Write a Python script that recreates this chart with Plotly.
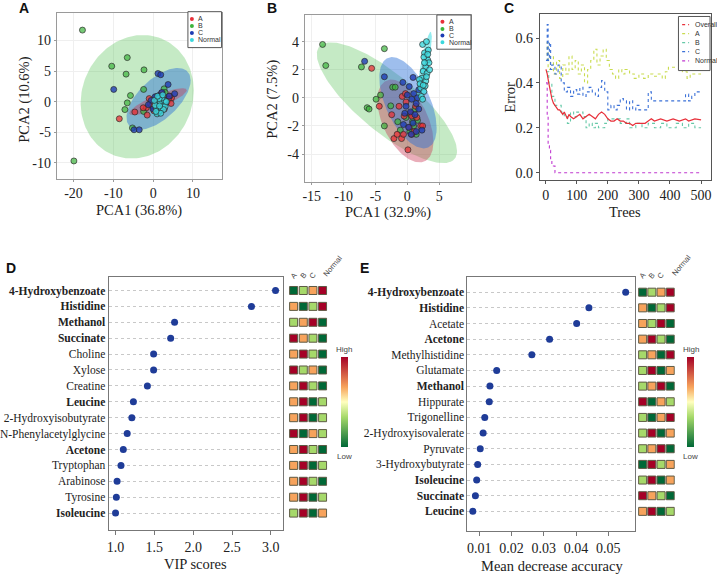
import numpy as np
import plotly.graph_objects as go

W, H = 717, 577
SERIF = "Liberation Serif, Times New Roman, serif"
SANS = "Liberation Sans, Arial, sans-serif"
NARROW = "Liberation Sans Narrow, Arial Narrow, Liberation Sans, sans-serif"

GROUPS = ["A", "B", "C", "Normal"]
GROUP_COLORS = ["rgba(232,48,52,0.75)", "rgba(60,180,60,0.7)", "rgba(30,60,180,0.8)", "rgba(60,215,220,0.8)"]
LEGEND_COLORS = ["#e8303a", "#3cb43c", "#1e3cb4", "#3cd7dc"]
ELL_COLORS = ["rgba(200,50,80,0.40)", "rgba(80,190,80,0.33)", "rgba(40,110,215,0.45)", "rgba(60,220,225,0.55)"]

# ---------------- Panel A (PCA, dataset 1) ----------------
PA_A_X = [-8.5, -4.6, -1.7, -1.5, -0.7, 0.0, 0.5, 1.0, 1.5, 2.1, 2.5, 2.9, 3.5, 4.6, 4.2, 1.2, 0.2, -1.0, 2.8, 3.8, 0.8, -0.3, 1.8, 4.5, -2.5]
PA_A_Y = [-2.8, -1.7, -1.0, -2.2, -0.3, -0.8, -1.2, 0.2, -0.5, 1.4, -0.8, 0.5, 0.0, 0.6, 0.9, -1.8, -1.5, 0.5, -1.2, 0.4, 0.8, -0.6, -0.2, -0.3, -1.0]
PA_B_X = [-17.75, -10.4, -6.5, -6.8, -2.3, -2.4, -5.7, -6.5, -7.1, -5.2, -19.9, -2.4, 2.75, 2.0, 3.5, 0.5, 3.0, 1.5]
PA_B_Y = [11.7, 5.8, 7.2, 4.5, 5.2, 2.0, 1.0, -0.2, -1.3, -4.3, -9.7, -1.6, 2.1, 1.0, 0.3, -0.5, 1.5, 0.0]
PA_C_X = [-9.9, 1.2, 1.9, -4.8, -3.5, 3.75, 5.4, 0.5, 1.5, 2.5, -0.5, 1.0, 3.2, 2.2, 0.0, 4.0, -1.2, 1.8]
PA_C_Y = [2.0, 4.6, 4.4, -4.6, -4.6, 2.8, 1.3, 0.8, 1.0, 0.3, 0.2, -0.8, -0.2, 1.5, -1.2, 0.9, -0.5, -1.5]
PA_N_X = [1.0, 1.5, 0.8, 2.0, 2.5, 1.2, 1.8, 2.8, 3.0, 0.5, 2.2, 1.5, 3.3, 0.3, 2.6, 1.9, 1.1, 2.4, 0.7, 1.6]
PA_N_Y = [-2.0, -1.5, -1.0, -1.0, -0.5, -0.3, 0.0, 0.2, -0.8, -0.6, 0.6, 0.5, 0.0, 0.2, -1.3, -1.9, 0.9, 1.1, -1.6, -0.7]
# ellipse parameters (centre, half x-extent, half y-extent, correlation) for A, B, C, Normal
PA_ELL_CX = [1.2, -4.0, 1.35, 1.7]
PA_ELL_CY = [0.0, 0.8, 0.45, -0.4]
PA_ELL_SX = [7.2, 14.2, 8.05, 2.2]
PA_ELL_SY = [2.2, 10.1, 5.05, 1.9]
PA_ELL_R = [0.85, 0.1, 0.6, 0.6]
PA_XTICKS = [-20, -10, 0, 10]
PA_XTEXT = ["-20", "-10", "0", "10"]
PA_YTICKS = [-10, -5, 0, 5, 10]
PA_YTEXT = ["-10", "-5", "0", "5", "10"]

# ---------------- Panel B (PCA, dataset 2) ----------------
PB_A_X = [-5.6, -4.4, -2.45, -2.1, -0.9, -0.6, 0.1, 0.7, 2.1, 2.4, -1.3, -0.8, -0.3, 0.5, 0.7, -0.5, 1.1, -1.6, 0.3, 1.5, -0.2, 1.3]
PB_A_Y = [2.1, -0.6, -1.2, -2.9, -2.9, -2.6, -3.7, -2.6, -2.0, -2.0, -0.6, 0.1, 0.3, -1.1, -1.3, -1.3, -2.4, -2.6, -2.1, -1.4, -0.3, -0.6]
PB_B_X = [-13.3, -12.8, -7.2, -3.6, -6.3, -6.0, -4.9, -4.2, -2.3, -1.9, -2.6, -3.6, -1.5, -1.1, -0.2, 0.5, 1.2, 1.0, 1.6, 0.4, 0.8, 1.4]
PB_B_Y = [3.8, 2.3, 2.2, 3.5, -0.7, -0.8, -0.1, 0.2, 0.76, 0.76, -0.57, -2.0, -1.7, -2.3, -1.4, -1.2, -0.8, -2.0, -1.6, -2.4, -1.7, -2.6]
PB_C_X = [-6.7, -3.6, -0.7, 0.9, 1.8, 0.0, 0.7, 1.4, 1.8, 2.3, -0.6, 0.2, 0.9, 1.4, -0.2, 1.0, 1.6, 0.5, 1.2, 0.3, -0.4, 0.6]
PB_C_Y = [2.6, 1.5, 1.1, 1.45, 0.57, 0.2, -0.1, -0.4, -0.8, -2.3, -1.9, -2.1, -1.8, -2.4, -0.6, 0.3, 0.0, -1.0, -1.2, 0.8, -1.1, -2.6]
PB_N_X = [2.4, 3.0, 2.7, 3.2, 2.9, 2.5, 2.3, 2.9, 2.1, 2.6, 3.1, 1.9, 3.4, 2.2, 2.8, 3.3, 2.6, 3.5, 2.0, 2.4, 3.0, 2.7, 3.2, 2.5]
PB_N_Y = [3.8, 4.0, 3.2, 2.7, 2.2, 1.9, 1.4, 1.2, 0.7, 0.45, 1.75, 1.3, 2.5, 0.1, 0.85, 3.4, 2.9, 2.0, 1.0, -0.1, 1.5, 2.5, 3.1, 0.9]
PB_ELL_CX = [-0.3, -3.2, 0.1, 2.7]
PB_ELL_CY = [-1.65, -0.35, -0.35, 2.35]
PB_ELL_SX = [4.4, 11.0, 4.5, 1.15]
PB_ELL_SY = [2.95, 4.3, 3.25, 2.35]
PB_ELL_R = [-0.5, -0.8, -0.55, 0.85]
PB_XTICKS = [-15, -10, -5, 0, 5]
PB_XTEXT = ["-15", "-10", "-5", "0", "5"]
PB_YTICKS = [-4, -2, 0, 2, 4]
PB_YTEXT = ["-4", "-2", "0", "2", "4"]

# ---------------- Panel C (random forest error) ----------------
C_NAMES = ["Overall", "A", "B", "C", "Normal"]
C_COLORS = ["#e8303a", "#c9dc50", "#66c9a8", "#3d72d8", "#c03ad0"]
C_OVERALL_T = [1, 5, 10, 15, 20, 25, 30, 35, 40, 45, 50, 55, 60, 65, 70, 75, 80, 90, 100, 110, 120, 130, 140, 150, 160, 170, 180, 190, 200, 210, 220, 230, 240, 250, 260, 270, 280, 290, 300, 320, 330, 340, 350, 370, 390, 410, 430, 450, 460, 480, 500]
C_OVERALL_V = [0.46, 0.44, 0.40, 0.36, 0.33, 0.31, 0.30, 0.29, 0.28, 0.28, 0.27, 0.26, 0.27, 0.25, 0.24, 0.26, 0.25, 0.24, 0.25, 0.26, 0.24, 0.25, 0.26, 0.25, 0.24, 0.26, 0.27, 0.26, 0.24, 0.23, 0.23, 0.24, 0.23, 0.23, 0.22, 0.22, 0.21, 0.22, 0.22, 0.22, 0.23, 0.24, 0.23, 0.24, 0.23, 0.24, 0.23, 0.24, 0.23, 0.24, 0.235]
C_A_T = [1, 5, 8, 15, 25, 35, 45, 55, 65, 75, 85, 95, 105, 115, 125, 135, 145, 155, 165, 175, 185, 195, 205, 215, 225, 235, 245, 255, 270, 285, 300, 315, 330, 345, 360, 375, 385, 395, 420, 440, 455, 465, 480, 500]
C_A_V = [0.50, 0.58, 0.46, 0.52, 0.44, 0.50, 0.42, 0.48, 0.44, 0.52, 0.46, 0.50, 0.44, 0.48, 0.40, 0.46, 0.50, 0.55, 0.48, 0.52, 0.55, 0.50, 0.46, 0.44, 0.42, 0.46, 0.44, 0.46, 0.44, 0.42, 0.44, 0.42, 0.44, 0.43, 0.44, 0.42, 0.45, 0.47, 0.47, 0.45, 0.42, 0.44, 0.44, 0.44]
C_B_T = [1, 10, 20, 30, 40, 50, 60, 70, 80, 90, 100, 110, 120, 130, 140, 150, 160, 170, 180, 190, 200, 220, 240, 260, 270, 290, 310, 330, 350, 370, 390, 420, 440, 460, 480, 500]
C_B_V = [0.45, 0.40, 0.34, 0.30, 0.30, 0.27, 0.25, 0.22, 0.27, 0.25, 0.27, 0.27, 0.25, 0.20, 0.22, 0.20, 0.22, 0.20, 0.20, 0.22, 0.24, 0.24, 0.22, 0.24, 0.20, 0.22, 0.20, 0.22, 0.20, 0.22, 0.20, 0.22, 0.20, 0.22, 0.20, 0.20]
C_C_T = [1, 5, 8, 12, 16, 20, 30, 40, 50, 60, 70, 80, 90, 100, 110, 120, 130, 140, 150, 160, 170, 180, 190, 200, 210, 220, 230, 240, 250, 260, 270, 280, 290, 300, 320, 330, 340, 360, 400, 440, 450, 460, 470, 480, 500]
C_C_V = [0.50, 0.66, 0.50, 0.58, 0.46, 0.48, 0.44, 0.48, 0.40, 0.36, 0.38, 0.34, 0.37, 0.35, 0.38, 0.34, 0.36, 0.38, 0.36, 0.34, 0.38, 0.41, 0.36, 0.28, 0.30, 0.28, 0.30, 0.33, 0.32, 0.28, 0.32, 0.28, 0.30, 0.28, 0.28, 0.36, 0.32, 0.32, 0.32, 0.32, 0.35, 0.32, 0.34, 0.36, 0.36]
C_N_T = [1, 5, 8, 12, 16, 20, 25, 30, 500]
C_N_V = [0.40, 0.25, 0.12, 0.10, 0.05, 0.03, 0.03, 0.0, 0.0]
C_XTICKS = [0, 100, 200, 300, 400, 500]
C_YTICKS = [0.0, 0.2, 0.4, 0.6]
C_YTEXT = ["0.0", "0.2", "0.4", "0.6"]

# ---------------- Panel D (VIP scores) ----------------
D_NAMES = ["4-Hydroxybenzoate", "Histidine", "Methanol", "Succinate", "Choline", "Xylose", "Creatine", "Leucine",
           "2-Hydroxyisobutyrate", "N-Phenylacetylglycine", "Acetone", "Tryptophan", "Arabinose", "Tyrosine", "Isoleucine"]
D_BOLD = [True, True, True, True, False, False, False, True, False, False, True, False, False, False, True]
D_VIP = [3.06, 2.75, 1.76, 1.71, 1.49, 1.49, 1.41, 1.23, 1.21, 1.15, 1.10, 1.07, 1.02, 1.01, 1.00]
D_HEAT = [[1, 2, 3, 4], [3, 1, 2, 4], [2, 3, 4, 1], [4, 3, 2, 1], [3, 4, 2, 1], [4, 2, 3, 1], [3, 4, 2, 1], [3, 4, 1, 2],
          [3, 4, 1, 2], [4, 1, 3, 2], [3, 4, 2, 1], [3, 4, 1, 2], [3, 4, 2, 1], [3, 4, 1, 2], [2, 4, 1, 3]]
D_XTICKS = [1.0, 1.5, 2.0, 2.5, 3.0]
D_XTEXT = ["1.0", "1.5", "2.0", "2.5", "3.0"]

# ---------------- Panel E (Mean decrease accuracy) ----------------
E_NAMES = ["4-Hydroxybenzoate", "Histidine", "Acetate", "Acetone", "Methylhistidine", "Glutamate", "Methanol", "Hippurate",
           "Trigonelline", "2-Hydroxyisovalerate", "Pyruvate", "3-Hydroxybutyrate", "Isoleucine", "Succinate", "Leucine"]
E_BOLD = [True, True, False, True, False, False, True, False, False, False, False, False, True, True, True]
E_MDA = [0.0554, 0.0440, 0.0402, 0.0318, 0.0263, 0.0154, 0.0133, 0.0131, 0.0117, 0.0112, 0.0103, 0.0095, 0.0092, 0.0088, 0.0080]
E_HEAT = [[1, 2, 3, 4], [3, 1, 2, 4], [3, 2, 4, 1], [3, 4, 2, 1], [2, 3, 1, 4], [2, 4, 1, 3], [2, 3, 4, 1], [4, 1, 3, 2],
          [2, 1, 3, 4], [2, 4, 1, 3], [2, 3, 4, 1], [1, 4, 2, 3], [2, 4, 1, 3], [4, 3, 2, 1], [3, 4, 1, 2]]
E_XTICKS = [0.01, 0.02, 0.03, 0.04, 0.05]
E_XTEXT = ["0.01", "0.02", "0.03", "0.04", "0.05"]

HEAT_COLS = ["A", "B", "C", "Normal"]
HEAT_SCALE = [[0.0, "#006837"], [1 / 3, "#a6d96a"], [0.5, "#ffffbf"], [2 / 3, "#f7a35c"], [1.0, "#a50026"]]


def px_x(p):
    return p / W


def px_y(p):
    return 1 - p / H


def dom_x(a, b):
    return [a / W, b / W]


def dom_y(top, bottom):
    return [1 - bottom / H, 1 - top / H]


def ellipse(cx, cy, sx, sy, r, n=160):
    t = np.linspace(0, 2 * np.pi, n)
    d = np.arccos(r)
    return cx + sx * np.cos(t), cy + sy * np.cos(t - d)


fig = go.Figure()


# ----- PCA panels -----
def add_pca(xa, ya, pts, ell, order):
    cx, cy, sx, sy, rr = ell
    for gi in order:
        ex, ey = ellipse(cx[gi], cy[gi], sx[gi], sy[gi], rr[gi])
        fig.add_trace(go.Scatter(x=ex, y=ey, mode="lines", fill="toself", fillcolor=ELL_COLORS[gi],
                                 line=dict(width=0), hoverinfo="skip", showlegend=False, xaxis=xa, yaxis=ya))
    for gi in [1, 0, 2, 3]:
        px_, py_ = pts[gi]
        fig.add_trace(go.Scatter(x=px_, y=py_, mode="markers", name=GROUPS[gi], showlegend=False,
                                 marker=dict(size=6, color=GROUP_COLORS[gi], line=dict(width=0.8, color="rgba(40,40,40,0.85)")),
                                 xaxis=xa, yaxis=ya))


add_pca("x", "y", [(PA_A_X, PA_A_Y), (PA_B_X, PA_B_Y), (PA_C_X, PA_C_Y), (PA_N_X, PA_N_Y)],
        (PA_ELL_CX, PA_ELL_CY, PA_ELL_SX, PA_ELL_SY, PA_ELL_R), [1, 2, 0, 3])
add_pca("x2", "y2", [(PB_A_X, PB_A_Y), (PB_B_X, PB_B_Y), (PB_C_X, PB_C_Y), (PB_N_X, PB_N_Y)],
        (PB_ELL_CX, PB_ELL_CY, PB_ELL_SX, PB_ELL_SY, PB_ELL_R), [1, 0, 2, 3])

# ----- Panel C -----
c_series = [(C_OVERALL_T, C_OVERALL_V), (C_A_T, C_A_V), (C_B_T, C_B_V), (C_C_T, C_C_V), (C_N_T, C_N_V)]
for i in [1, 2, 3, 0, 4]:
    tt, vv = c_series[i]
    fig.add_trace(go.Scatter(x=tt, y=vv, mode="lines", name=C_NAMES[i], showlegend=False,
                             line=dict(color=C_COLORS[i], width=1.2 if i == 0 else 1.1,
                                       dash="solid" if i == 0 else "dot", shape="linear" if i == 0 else "hv"),
                             xaxis="x3", yaxis="y3"))


# ----- Panels D and E -----
def add_dot_panel(xa, ya, hx, hy, vals, heat, cax):
    n = len(vals)
    fig.add_trace(go.Scatter(x=vals, y=list(range(n)), mode="markers", showlegend=False,
                             marker=dict(size=7, color="#1f3c98"), xaxis=xa, yaxis=ya))
    xs, ys, cs = [], [], []
    for r, row in enumerate(heat):
        for c, v in enumerate(row):
            xs.append(c)
            ys.append(r)
            cs.append(v)
    fig.add_trace(go.Scatter(x=xs, y=ys, mode="markers", showlegend=False,
                             marker=dict(symbol="square", size=8, color=cs, coloraxis=cax,
                                         line=dict(width=1, color="#5d5a44")),
                             xaxis=hx, yaxis=hy))


add_dot_panel("x4", "y4", "x5", "y5", D_VIP, D_HEAT, "coloraxis")
add_dot_panel("x6", "y6", "x7", "y7", E_MDA, E_HEAT, "coloraxis2")


def fmt_names(names, bold):
    return ["<b>%s</b>" % n if b else n for n, b in zip(names, bold)]


axis_pca = dict(showline=True, linecolor="#9a9a9a", linewidth=1, mirror=True, ticks="outside", ticklen=2,
                tickcolor="#9a9a9a", showgrid=True, gridcolor="#efefef", zeroline=False,
                tickfont=dict(family=SERIF, size=14, color="#222"))
axis_c = dict(showline=True, linecolor="#555", linewidth=1, mirror=True, ticks="outside", ticklen=3,
              tickcolor="#555", showgrid=False, zeroline=False, tickfont=dict(family=SERIF, size=14, color="#222"))
axis_dx = dict(showline=True, linecolor="#777", linewidth=1, mirror=True, ticks="outside", ticklen=4,
               tickcolor="#777", showgrid=False, zeroline=False, tickfont=dict(family=SERIF, size=14, color="#222"))
axis_dy = dict(showline=True, linecolor="#777", linewidth=1, mirror=True, ticks="", showgrid=True,
               gridcolor="#c8c8c8", griddash="dot", gridwidth=1, zeroline=False,
               tickfont=dict(family=SERIF, size=11.5, color="#222"))
hidden = dict(visible=False, showgrid=False, zeroline=False)

fig.update_layout(
    width=W, height=H, margin=dict(l=0, r=0, t=0, b=0),
    paper_bgcolor="white", plot_bgcolor="white", showlegend=False,
    xaxis=dict(axis_pca, domain=dom_x(55, 221), range=[-24.2, 17.3], anchor="y", tickvals=PA_XTICKS, ticktext=PA_XTEXT),
    yaxis=dict(axis_pca, domain=dom_y(13, 179), range=[-12.6, 14.5], anchor="x", tickvals=PA_YTICKS, ticktext=PA_YTEXT),
    xaxis2=dict(axis_pca, domain=dom_x(304, 471), range=[-16.1, 10.0], anchor="y2", tickvals=PB_XTICKS, ticktext=PB_XTEXT),
    yaxis2=dict(axis_pca, domain=dom_y(15, 182), range=[-5.97, 5.9], anchor="x2", tickvals=PB_YTICKS, ticktext=PB_YTEXT),
    xaxis3=dict(axis_c, domain=dom_x(540, 712), range=[-19, 532], anchor="y3", tickvals=C_XTICKS),
    yaxis3=dict(axis_c, domain=dom_y(14, 180), range=[-0.031, 0.707], anchor="x3", tickvals=C_YTICKS, ticktext=C_YTEXT),
    xaxis4=dict(axis_dx, domain=dom_x(107, 281.7), range=[0.91, 3.15], anchor="y4", tickvals=D_XTICKS, ticktext=D_XTEXT),
    yaxis4=dict(axis_dy, domain=dom_y(277.3, 530.7), range=[15.05, -0.86], anchor="x4",
                tickvals=list(range(len(D_NAMES))), ticktext=fmt_names(D_NAMES, D_BOLD)),
    xaxis5=dict(hidden, domain=dom_x(288, 326.8), range=[-0.5, 3.5], anchor="y5"),
    yaxis5=dict(hidden, domain=dom_y(277.3, 530.7), range=[15.05, -0.86], anchor="x5"),
    xaxis6=dict(axis_dx, domain=dom_x(467.3, 635.7), range=[0.0063, 0.0583], anchor="y6", tickvals=E_XTICKS, ticktext=E_XTEXT),
    yaxis6=dict(axis_dy, domain=dom_y(277, 531.7), range=[15.24, -1.0], anchor="x6",
                tickvals=list(range(len(E_NAMES))), ticktext=fmt_names(E_NAMES, E_BOLD)),
    xaxis7=dict(hidden, domain=dom_x(638.7, 675.7), range=[-0.5, 3.5], anchor="y7"),
    yaxis7=dict(hidden, domain=dom_y(277, 531.7), range=[15.24, -1.0], anchor="x7"),
    coloraxis=dict(colorscale=HEAT_SCALE, cmin=1, cmax=4,
                   colorbar=dict(x=px_x(340), xanchor="left", y=px_y(403), yanchor="middle", len=90 / H,
                                 lenmode="fraction", thickness=7, outlinewidth=0, showticklabels=False,
                                 ticks="", xpad=0, ypad=0)),
    coloraxis2=dict(colorscale=HEAT_SCALE, cmin=1, cmax=4,
                    colorbar=dict(x=px_x(688), xanchor="left", y=px_y(403), yanchor="middle", len=90 / H,
                                  lenmode="fraction", thickness=7, outlinewidth=0, showticklabels=False,
                                  ticks="", xpad=0, ypad=0)),
)

ann = []
shapes = []


def text(x, y, s, size, family=SERIF, angle=0, xanchor="center", yanchor="middle", color="#222"):
    ann.append(dict(x=px_x(x), y=px_y(y), xref="paper", yref="paper", text=s, showarrow=False,
                    font=dict(family=family, size=size, color=color), textangle=angle,
                    xanchor=xanchor, yanchor=yanchor))


# panel letters
for lab, (x, y) in zip(["A", "B", "C", "D", "E"], [(22, 8), (271, 8), (509, 8), (9, 268), (364, 268)]):
    text(x, y, "<b>%s</b>" % lab, 14, family=SANS, color="#111")

# axis titles
text(23, 100, "PCA1 (10.6%)".replace("PCA1", "PCA2"), 14.5, angle=-90)
text(138, 211, "PCA1 (36.8%)", 14.5)
text(272, 99, "PCA2 (7.5%)", 14.5, angle=-90)
text(388, 213, "PCA1 (32.9%)", 14.5)
text(510, 97, "Error", 14.5, angle=-90)
text(626, 212, "Trees", 14.5)
text(194, 565, "VIP scores", 14.5)
text(552, 567, "Mean decrease accuracy", 14.5)


# PCA legends (drawn manually)
def pca_legend(x0, y0, x1, y1, mx, tx, ys):
    shapes.append(dict(type="rect", xref="paper", yref="paper", x0=px_x(x0), x1=px_x(x1), y0=px_y(y1), y1=px_y(y0),
                       line=dict(color="#555", width=1), fillcolor="white", layer="above"))
    for gi, yy in enumerate(ys):
        shapes.append(dict(type="circle", xref="paper", yref="paper", x0=px_x(mx - 2), x1=px_x(mx + 2),
                           y0=px_y(yy + 2), y1=px_y(yy - 2), line=dict(width=0), fillcolor=LEGEND_COLORS[gi],
                           layer="above"))
        text(tx, yy, GROUPS[gi], 7, family=SANS, xanchor="left", color="#333")


pca_legend(186.7, 11.7, 220.5, 47.7, 190.7, 195, [19, 26, 33, 40])
pca_legend(436.7, 15, 471, 49.3, 442.3, 446.5, [21.7, 29, 35.6, 42.3])

# C legend
shapes.append(dict(type="rect", xref="paper", yref="paper", x0=px_x(679.3), x1=px_x(711), y0=px_y(70.7), y1=px_y(16.5),
                   line=dict(color="#555", width=1), fillcolor="white", layer="above"))
for i, yy in enumerate([24.7, 33.7, 42.7, 51.7, 61]):
    shapes.append(dict(type="line", xref="paper", yref="paper", x0=px_x(683), x1=px_x(690), y0=px_y(yy), y1=px_y(yy),
                       line=dict(color=C_COLORS[i], width=1.2, dash="dot"), layer="above"))
    text(694, yy, C_NAMES[i], 7, family=NARROW, xanchor="left", color="#333")

# heatmap column headers
for xs_ in [[293, 302.7, 312, 320], [643.3, 652.5, 661.5, 669.5]]:
    for j, lab in enumerate(HEAT_COLS):
        if lab == "Normal":
            text(xs_[j] - 2, 281, lab, 7.5, family=SANS, angle=-50, xanchor="left", yanchor="bottom", color="#444")
        else:
            text(xs_[j], 276, lab, 7.5, family=SANS, angle=-50, color="#444")

# High / Low labels
for xx in [343.5, 691.5]:
    text(xx, 350, "High", 8, family=SANS, color="#444")
    text(xx, 457, "Low", 8, family=SANS, color="#444")

fig.update_layout(annotations=ann, shapes=shapes)
fig.write_html("out.html", config={"displayModeBar": False},
               post_script="document.body.style.margin='0';document.body.style.overflow='hidden';")
